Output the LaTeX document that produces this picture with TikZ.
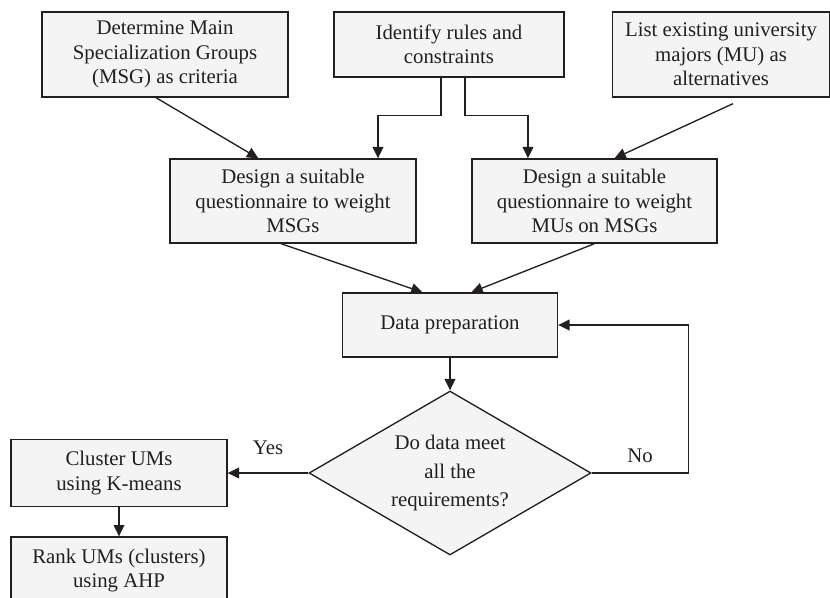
\documentclass[tikz,border=0pt]{standalone}
\usepackage{fontspec}
\setmainfont{Liberation Serif}
\usetikzlibrary{arrows.meta,shapes.geometric,positioning}
\definecolor{boxcolor}{RGB}{244,244,244}
\definecolor{inkcolor}{RGB}{35,31,32}

\begin{document}
\begin{tikzpicture}[x=0.75pt,y=-0.75pt,
        every node/.style={text=inkcolor,font=\fontsize{15.6}{18.4}\selectfont},
        boxdim/.style 2 args={minimum width=#1*0.75pt,minimum height=#2*0.75pt},
        procbox/.style={draw=inkcolor,fill=boxcolor,line width=1pt,align=center,inner sep=0pt},
        decbox/.style={diamond,aspect=1.72,draw=inkcolor,fill=boxcolor,line width=1pt,align=center,inner sep=0pt,
            font=\fontsize{15.6}{21.4}\selectfont},
        flow/.style={draw=inkcolor,line width=1pt,-{Triangle[length=8.5pt,width=8pt]}}]
    \useasboundingbox (0,0) rectangle (830,598);

    % draw top row
    \node[procbox,boxdim={246}{85}] (msg) at (165,54.5) {Determine Main\\Specialization Groups\\(MSG) as criteria};
    \node[procbox,boxdim={230}{65}] (rules) at (449,44.5) {Identify rules and\\constraints};
    \node[procbox,boxdim={217}{85}] (majors) at (721,54.5) {List existing university\\majors (MU) as\\alternatives};

    % draw questionnaires
    \node[procbox,boxdim={246}{84}] (qmsg) at (293,201) {Design a suitable\\questionnaire to weight\\MSGs};
    \node[procbox,boxdim={245}{84}] (qmu) at (594.5,201) {Design a suitable\\questionnaire to weight\\MUs on MSGs};

    % draw data check
    \node[procbox,boxdim={215}{64}] (prep) at (450,325) {Data preparation};
    \node[decbox,minimum width=211.5pt,minimum height=123pt] (check) at (450,473) {Do data meet\\all the\\requirements?};

    % draw outcome
    \node[procbox,boxdim={216}{67}] (cluster) at (119,473) {Cluster UMs\\using K-means};
    \node[procbox,boxdim={216}{67}] (rank) at (119,570.5) {Rank UMs (clusters)\\using AHP};

    % connectors
    \draw[flow] ([xshift=-6.75pt]msg.south) -- ([xshift=-26pt]qmsg.north);
    \draw[flow] ([xshift=-6pt]rules.south) -- ++(0,38) -| ([xshift=63.75pt]qmsg.north);
    \draw[flow] ([xshift=12pt]rules.south) -- ++(0,38) -| ([xshift=-49.9pt]qmu.north);
    \draw[flow] ([xshift=9pt,yshift=-4.5pt]majors.south) -- ([xshift=15pt]qmu.north);
    \draw[flow] ([xshift=-9pt]qmsg.south) -- ([xshift=-20.6pt]prep.north);
    \draw[flow] (qmu.south) -- ([xshift=16pt]prep.north);
    \draw[flow] (prep) -- (check);
    \draw[flow] (check.east) -- ++(97,0) node[midway,above=4pt] {No} |- (prep.east);
    \draw[flow] (check.west) -- node[above=10pt] {Yes} (check.west -| cluster.east);
    \draw[flow] (cluster) -- (rank);
\end{tikzpicture}
\end{document}
